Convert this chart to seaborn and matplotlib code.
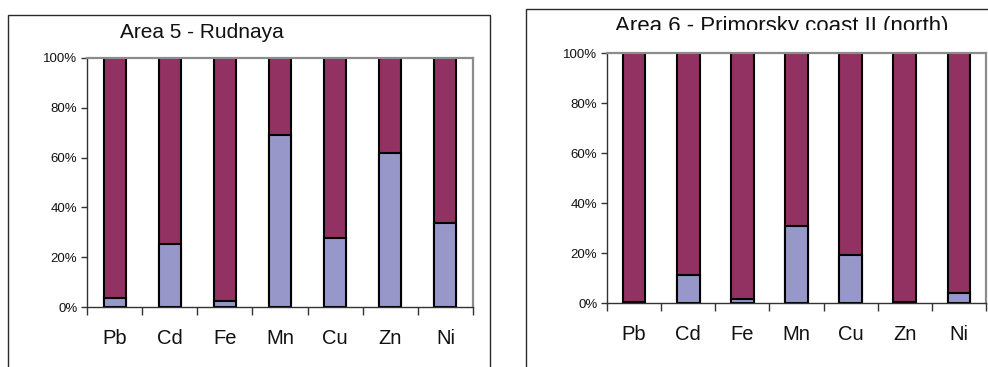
import matplotlib
matplotlib.use("Agg")
import matplotlib.pyplot as plt
import seaborn as sns
import pandas as pd
import numpy as np
from matplotlib.patches import Rectangle
from matplotlib.ticker import PercentFormatter, FixedLocator
from matplotlib.transforms import Bbox

sns.set_theme(style="white")
plt.rcParams['font.family'] = ['Liberation Sans', 'DejaVu Sans']

elements = ["Pb", "Cd", "Fe", "Mn", "Cu", "Zn", "Ni"]
area5_lower = [3.6, 25.5, 2.4, 69.0, 27.9, 62.0, 33.8]
area6_lower = [0.6, 11.1, 1.5, 31.0, 19.1, 0.6, 3.9]
area5_title = "Area 5 - Rudnaya"
area6_title = "Area 6 - Primorsky coast II (north)"
ytick_vals = [0, 20, 40, 60, 80, 100]

BLUE = "#9797CA"
PURPLE = "#923262"

W, H = 988, 367
fig = plt.figure(figsize=(W / 100, H / 100), dpi=100)


def px_axes(x0, y0, x1, y1):
    return fig.add_axes([x0 / W, 1 - y1 / H, (x1 - x0) / W, (y1 - y0) / H])


def draw_panel(ax, lower, width):
    df = pd.DataFrame({"element": elements, "lower": lower,
                       "total": [100.0] * len(elements)})
    sns.barplot(data=df, x="element", y="total", color=PURPLE, ax=ax,
                width=width, edgecolor="black", linewidth=1.5, saturation=1)
    sns.barplot(data=df, x="element", y="lower", color=BLUE, ax=ax,
                width=width, edgecolor="black", linewidth=1.5, saturation=1)
    n = len(elements)
    ax.set_xlim(-0.5, n - 0.5)
    ax.set_ylim(0, 100)
    ax.set_xlabel("")
    ax.set_ylabel("")
    ax.set_yticks(ytick_vals)
    ax.yaxis.set_major_formatter(PercentFormatter(100, decimals=0))
    ax.tick_params(axis="y", which="major", left=True, length=4, width=1,
                   color="#333333", labelsize=9.5, pad=3, labelcolor="#111111")
    ax.tick_params(axis="x", which="major", bottom=False, length=0,
                   labelsize=14.5, pad=16, labelcolor="#111111")
    ax.xaxis.set_minor_locator(FixedLocator(np.arange(-0.5, n, 1.0)))
    ax.tick_params(axis="x", which="minor", bottom=True, length=6, width=1,
                   color="#333333")
    for s in ["left", "bottom"]:
        ax.spines[s].set_color("#333333")
        ax.spines[s].set_linewidth(1.0)
    for s in ["top", "right"]:
        ax.spines[s].set_color("#8c8c8c")
        ax.spines[s].set_linewidth(1.6)
    ax.set_facecolor("white")


ax1 = px_axes(87, 58, 473, 307)
draw_panel(ax1, area5_lower, 0.40)
ax2 = px_axes(607, 53, 986, 303)
draw_panel(ax2, area6_lower, 0.42)

# outer chart boxes
fig.patches.append(Rectangle((8 / W, -0.1), (490 - 8) / W, 1.1 - 15 / H,
                             transform=fig.transFigure, fill=False,
                             edgecolor="#2a2a2a", linewidth=1.0))
fig.patches.append(Rectangle((526 / W, -0.1), 1.1 - 526 / W, 1.1 - 9 / H,
                             transform=fig.transFigure, fill=False,
                             edgecolor="#2a2a2a", linewidth=1.0))

fig.text(202 / W, 1 - 38 / H, area5_title, ha="center", va="baseline",
         fontsize=15, color="#111111")
t2 = fig.text(782 / W, 1 - 32 / H, area6_title, ha="center", va="baseline",
              fontsize=16, color="#111111")
t2.set_clip_box(Bbox.from_extents(500, H - 29.5, W, H))
t2.set_clip_on(True)

fig.savefig("out.png", dpi=100)
